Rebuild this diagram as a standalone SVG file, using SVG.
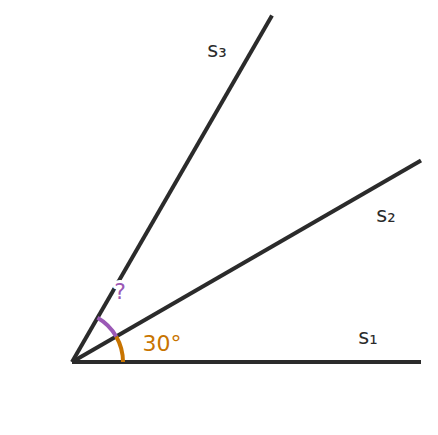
<svg xmlns="http://www.w3.org/2000/svg" width="438" height="435" viewBox="0 0 438 435">
<style>
.ray{stroke:#2b2b2b;stroke-width:4;fill:none}
.lbl{font-family:"DejaVu Sans",sans-serif;font-size:21px;fill:#2b2b2b;text-anchor:middle}
</style>
<rect width="438" height="435" fill="#ffffff"/>
<g id="connectors">
<line id="s1" class="ray" x1="72" y1="362" x2="421" y2="362"/>
<line id="s2" class="ray" x1="72" y1="362" x2="421" y2="160.5"/>
<line id="s3" class="ray" x1="72" y1="362" x2="272" y2="15.6"/>
</g>
<g id="angle30">
<path d="M123,362 A51,51 0 0 0 116.2,336.5" fill="none" stroke="#c87400" stroke-width="4"/>
<text x="162" y="351" class="lbl" style="fill:#c87400;font-size:22px">30°</text>
</g>
<g id="angleQ">
<path d="M116.2,336.5 A51,51 0 0 0 97.5,317.8" fill="none" stroke="#9b59b6" stroke-width="4"/>
<text x="120" y="299" class="lbl" style="fill:#9b59b6;font-size:22px;stroke:#ffffff;stroke-width:6;paint-order:stroke;stroke-linejoin:round">?</text>
</g>
<g id="label-s1"><text x="368" y="344" class="lbl">s₁</text></g>
<g id="label-s2"><text x="386" y="222" class="lbl">s₂</text></g>
<g id="label-s3"><text x="217" y="57" class="lbl">s₃</text></g>
</svg>
